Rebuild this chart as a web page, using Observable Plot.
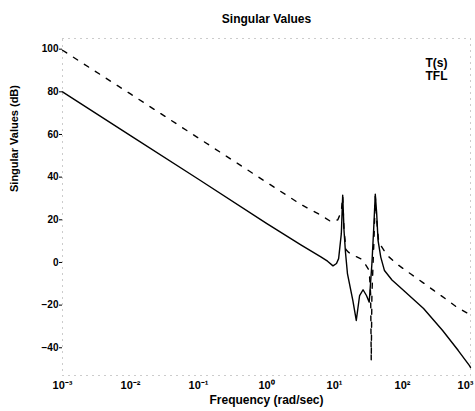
<!DOCTYPE html>
<html>
<head>
<meta charset="utf-8">
<script src="https://cdn.jsdelivr.net/npm/d3@7"></script>
<script src="https://cdn.jsdelivr.net/npm/@observablehq/plot@0.6"></script>
<style>
  html, body { margin: 0; padding: 0; background: white; }
</style>
</head>
<body>
<div id="chart"></div>
<script>
// ---- data ----
const seriesNames = ["T(s)", "TFL"];

// T(s): solid line
const tsFreq = [0.001, 0.01, 0.1, 1, 3.2, 6.3, 7.9, 9.5, 10.7, 11.5, 12.6, 13.2, 13.8, 14.5, 15.5, 18.6, 20.9, 23.4, 26.3, 29.5, 32.4, 35.5, 37.6, 39.8, 41.7, 43.7, 47.9, 54.3, 70, 93, 204, 389, 661, 966, 1000];
const tsDb   = [80, 59.5, 39, 18.3, 8.2, 2.6, 0.6, -1.6, -0.5, 1.8, 13.5, 31.5, 15, 4.8, -5.2, -17.8, -27.2, -15.5, -12.8, -15.5, -18.6, -0.5, 15, 32, 23, 10.3, 2.5, -3.8, -8.2, -11.7, -21.6, -31.9, -41.3, -48.4, -49.2];

// TFL: dashed line
const tflFreq = [0.001, 0.01, 0.1, 1, 3.2, 6.3, 8.9, 11.2, 12.6, 13.2, 13.8, 14.8, 16.2, 20, 25.7, 32.4, 34.0, 34.7, 35.5, 38, 39.8, 41.7, 44.7, 59.6, 88.3, 131, 195, 288, 427, 631, 944, 1000];
const tflDb   = [99.5, 79, 58.3, 37.6, 27.2, 22.2, 19.1, 20, 24, 31, 15, 6, 4.7, 3, 1.4, -3.8, -15, -46, -15, 10, 31, 20, 9.5, 3.3, -1.4, -5.3, -9.2, -13.1, -17, -21, -24.1, -24.6];

const xTicks = [0.001, 0.01, 0.1, 1, 10, 100, 1000];
const yTicks = [-40, -20, 0, 20, 40, 60, 80, 100];

const titleText = "Singular Values";
const xLabelText = "Frequency (rad/sec)";
const yLabelText = "Singular Values (dB)";

// ---- build tables ----
const tsData = tsFreq.map((f, i) => ({f, db: tsDb[i]}));
const tflData = tflFreq.map((f, i) => ({f, db: tflDb[i]}));

const sup = {"-": "\u207B", "0": "\u2070", "1": "\u00B9", "2": "\u00B2", "3": "\u00B3", "4": "\u2074", "5": "\u2075", "6": "\u2076", "7": "\u2077", "8": "\u2078", "9": "\u2079"};
const powFormat = d => "10" + String(Math.round(Math.log10(d))).split("").map(c => sup[c]).join("");

const tickText = {frameAnchor: "bottom", dy: 13, fontSize: 11, fontWeight: "bold", text: powFormat};

const chart = Plot.plot({
  width: 475,
  height: 411,
  marginLeft: 62,
  marginRight: 5,
  marginTop: 38,
  marginBottom: 36,
  style: {
    fontFamily: "'Liberation Sans', Arial, sans-serif",
    fontSize: "10px",
    fontWeight: "bold",
    background: "white",
    color: "black"
  },
  x: {type: "log", domain: [1e-3, 1e3], axis: null},
  y: {domain: [-53, 105], ticks: yTicks, tickSize: 3, tickPadding: 1, label: null},
  marks: [
    Plot.frame({stroke: "#999", strokeDasharray: "1,5"}),
    Plot.line(tsData, {x: "f", y: "db", stroke: "black", strokeWidth: 1.4}),
    Plot.line(tflData, {x: "f", y: "db", stroke: "black", strokeWidth: 1.4, strokeDasharray: "5,8"}),
    Plot.text(xTicks.slice(0, -1), {x: d => d, ...tickText}),
    Plot.text(xTicks.slice(-1), {x: d => d, dx: -5, ...tickText}),
    Plot.text([titleText], {frameAnchor: "top", dy: -24, fontSize: 12, fontWeight: "bold"}),
    Plot.text([xLabelText], {frameAnchor: "bottom", dy: 28, fontSize: 12, fontWeight: "bold"}),
    Plot.text([yLabelText], {frameAnchor: "left", dx: -48, dy: -15, rotate: -90, fontSize: 11, fontWeight: "bold"}),
    Plot.text([seriesNames[0]], {frameAnchor: "top-right", dx: -45, dy: 20, textAnchor: "start", fontSize: 12, fontWeight: "bold"}),
    Plot.text([seriesNames[1]], {frameAnchor: "top-right", dx: -45, dy: 33, textAnchor: "start", fontSize: 12, fontWeight: "bold"})
  ]
});

document.getElementById("chart").appendChild(chart);
</script>
</body>
</html>
